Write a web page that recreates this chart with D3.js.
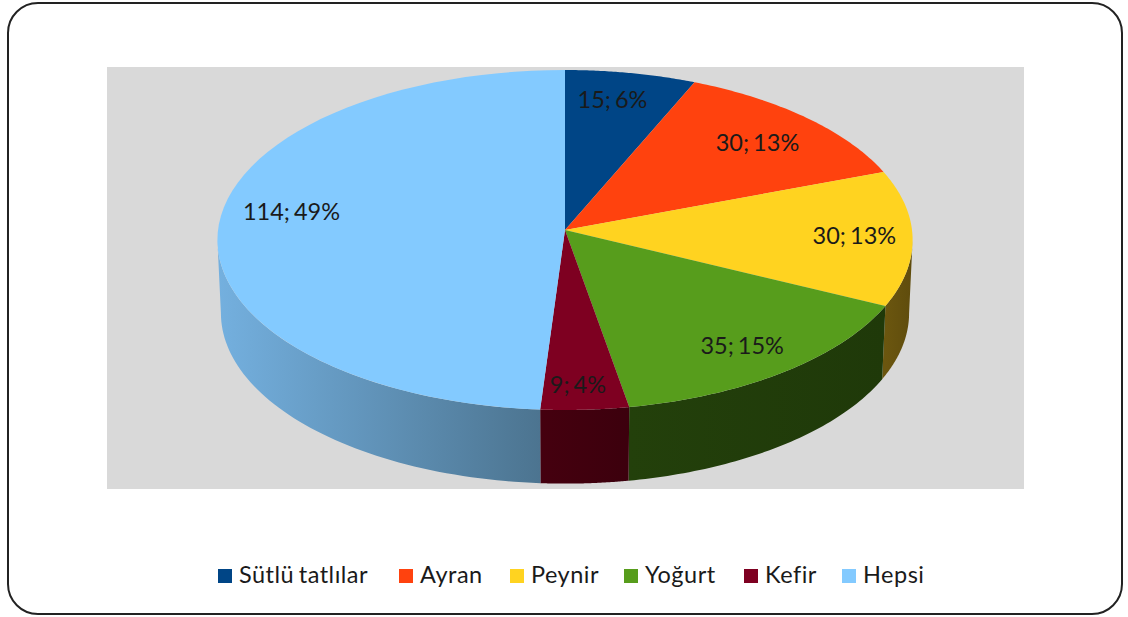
<!DOCTYPE html>
<html>
<head>
<meta charset="utf-8">
<script src="https://cdn.jsdelivr.net/npm/d3@7"></script>
<style>
  html, body { margin: 0; padding: 0; background: #fff; }
  text { font-family: Lato, "Open Sans", sans-serif; fill: #1a1a1a; }
</style>
</head>
<body>
<div id="chart"></div>
<script>
var categories = ['Sütlü tatlılar', 'Ayran', 'Peynir', 'Yoğurt', 'Kefir', 'Hepsi'];
var values = [15, 30, 30, 35, 9, 114];
var percents = [6, 13, 13, 15, 4, 49];

var colors = ['#004586', '#ff420e', '#ffd320', '#579d1c', '#7e0021', '#83caff'];
// wall colours run left to right along each slice
var wallLeft = ['#003060', '#8a2408', '#6b560f', '#23400b', '#45000f', '#74b0df'];
var wallRight = ['#003060', '#8a2408', '#5f4c0d', '#1f3909', '#3c000d', '#4c7490'];

// layout stuff, not data
var width = 1128, height = 617;
var labelRadius = [0.74, 0.77, 0.83, 0.81, 0.86, 0.79];
var labelDx = [-2, 5, 1, 1, -4, 0];
var labelDy = [-10, 2, 1, 4, 4, -11];
var legendX = [218, 399, 510, 624, 744, 842];

var svg = d3.select('#chart').append('svg')
    .attr('width', width)
    .attr('height', height);

svg.append('rect')
    .attr('x', 8).attr('y', 3)
    .attr('width', 1114).attr('height', 611)
    .attr('rx', 30)
    .attr('fill', '#fff')
    .attr('stroke', '#222')
    .attr('stroke-width', 2);

svg.append('rect')
    .attr('x', 107).attr('y', 67)
    .attr('width', 917).attr('height', 422)
    .attr('fill', '#d9d9d9');

// perspective disc: k tilts the far side back, top and bottom face differ a bit
var k = 0.0588;
var topFace = { cx: 565, cy: 230, rx: 347, ry: 169.4 };
var bottomFace = { cx: 565, cy: 303, rx: 343.5, ry: 170 };

function project(face, angle, r) {
    var u = Math.sin(angle) * r;
    var v = -Math.cos(angle) * r;
    var w = 1 - k * v;
    return [face.cx + face.rx * u / w, face.cy + face.ry * v / w];
}

var arcs = d3.pie().sort(null).value(d => d)(values);
var line = d3.line();

function rimAngles(a0, a1) {
    return d3.range(0, 61).map(i => a0 + (a1 - a0) * i / 60);
}

var defs = svg.append('defs');

// side walls, only the part facing us
var wallStart = Math.PI / 2 + 0.06;
var wallEnd = Math.PI * 1.5 - 0.06;

arcs.forEach(function(d, i) {
    var a0 = Math.max(d.startAngle, wallStart);
    var a1 = Math.min(d.endAngle, wallEnd);
    if (a1 <= a0) return;

    var angles = rimAngles(a0, a1);
    var upper = angles.map(a => project(topFace, a, 1));
    var lower = angles.map(a => project(bottomFace, a, 1)).reverse();

    var xs = upper.map(p => p[0]);
    var gradId = 'wall' + i;
    var grad = defs.append('linearGradient')
        .attr('id', gradId)
        .attr('gradientUnits', 'userSpaceOnUse')
        .attr('x1', d3.min(xs)).attr('x2', d3.max(xs))
        .attr('y1', 0).attr('y2', 0);
    grad.append('stop').attr('offset', 0).attr('stop-color', wallLeft[i]);
    grad.append('stop').attr('offset', 1).attr('stop-color', wallRight[i]);

    svg.append('path')
        .attr('d', line(upper.concat(lower)) + 'Z')
        .attr('fill', 'url(#' + gradId + ')');
});

// top faces
svg.selectAll('.slice')
    .data(arcs)
    .join('path')
    .attr('class', 'slice')
    .attr('d', d => line([[topFace.cx, topFace.cy]].concat(rimAngles(d.startAngle, d.endAngle).map(a => project(topFace, a, 1)))) + 'Z')
    .attr('fill', (d, i) => colors[i]);

// data labels
svg.selectAll('.label')
    .data(arcs)
    .join('text')
    .attr('class', 'label')
    .attr('text-anchor', 'middle')
    .attr('dominant-baseline', 'middle')
    .attr('font-size', '23.5px')
    .attr('word-spacing', '-2px')
    .attr('x', (d, i) => project(topFace, (d.startAngle + d.endAngle) / 2, labelRadius[i])[0] + labelDx[i])
    .attr('y', (d, i) => project(topFace, (d.startAngle + d.endAngle) / 2, labelRadius[i])[1] + labelDy[i])
    .text((d, i) => values[i] + '; ' + percents[i] + '%');

// legend
var legend = svg.selectAll('.legend')
    .data(categories)
    .join('g')
    .attr('class', 'legend')
    .attr('transform', (d, i) => 'translate(' + legendX[i] + ',576)');

legend.append('rect')
    .attr('x', 0).attr('y', -7)
    .attr('width', 14).attr('height', 14)
    .attr('fill', (d, i) => colors[i]);

legend.append('text')
    .attr('x', 21)
    .attr('y', 1)
    .attr('dominant-baseline', 'middle')
    .attr('font-size', '23.5px')
    .attr('word-spacing', '-2px')
    .attr('letter-spacing', '0.5px')
    .text(d => d);
</script>
</body>
</html>
